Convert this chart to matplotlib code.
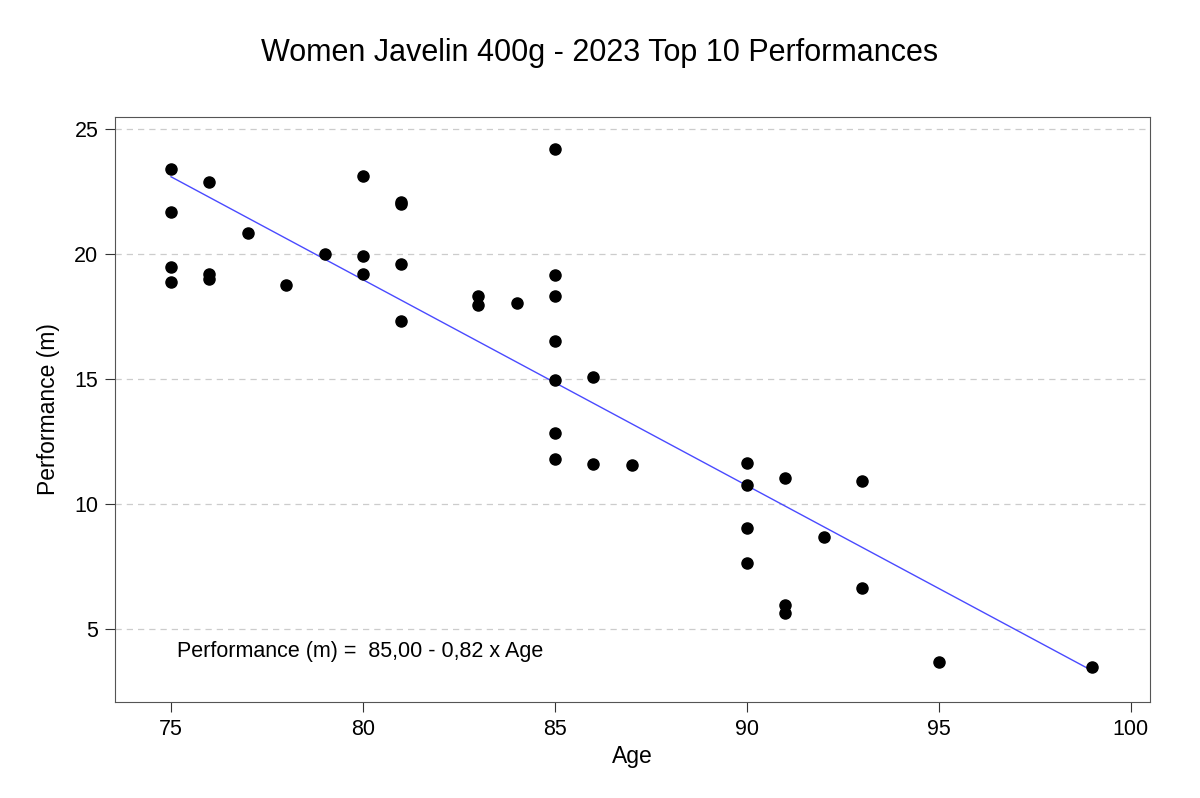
import numpy as np
import matplotlib
matplotlib.use('Agg')
import matplotlib.pyplot as plt

plt.rcParams['font.family'] = ['Liberation Sans', 'DejaVu Sans']

# Dados
age = [75, 75, 75, 75,
       76, 76, 76,
       77, 78, 79,
       80, 80, 80,
       81, 81, 81, 81,
       83, 83, 84,
       85, 85, 85, 85, 85, 85, 85,
       86, 86, 87,
       90, 90, 90, 90,
       91, 91, 91,
       92, 93, 93, 95, 99]
performance = [23.40, 21.70, 19.50, 18.90,
               22.88, 19.20, 19.00,
               20.85, 18.77, 20.03,
               23.15, 19.95, 19.22,
               22.00, 22.10, 19.60, 17.35,
               18.34, 17.96, 18.05,
               24.22, 19.18, 18.34, 16.53, 14.97, 12.84, 11.80,
               15.09, 11.63, 11.57,
               11.64, 10.76, 9.06, 7.66,
               11.04, 5.97, 5.64,
               8.70, 10.95, 6.66, 3.69, 3.48]
equation = 'Performance (m) =  85,00 - 0,82 x Age'

x = np.array(age)
y = np.array(performance)
slope, intercept = np.polyfit(x, y, 1)
xs = np.array([x.min(), x.max()])

fig = plt.figure(figsize=(12, 7.98), dpi=100)
ax = fig.add_axes([115 / 1200, 1 - 702 / 798, 1035 / 1200, 585 / 798])

ax.scatter(x, y, s=64, color='black', zorder=3)
ax.plot(xs, intercept + slope * xs, color='#4a4aff', linewidth=1, zorder=2)

ax.set_xlim(73.54, 100.5)
ax.set_ylim(2.09, 25.5)
ax.set_xticks([75, 80, 85, 90, 95, 100])
ax.set_yticks([5, 10, 15, 20, 25])
ax.yaxis.grid(True, linestyle=(0, (5, 4)), color='#cccccc', linewidth=0.9)
ax.set_axisbelow(True)
for s in ax.spines.values():
    s.set_color('#555555')
ax.tick_params(direction='out', length=7, labelsize=15.5, color='#333333', pad=5)

ax.set_xlabel('Age', fontsize=16.5, labelpad=4)
ax.set_ylabel('Performance (m)', fontsize=16.5, labelpad=10)
ax.text(75.15, 3.9, equation, fontsize=15.5)

fig.suptitle('Women Javelin 400g - 2023 Top 10 Performances', fontsize=22, y=0.952)

plt.savefig('out.png', dpi=100)
